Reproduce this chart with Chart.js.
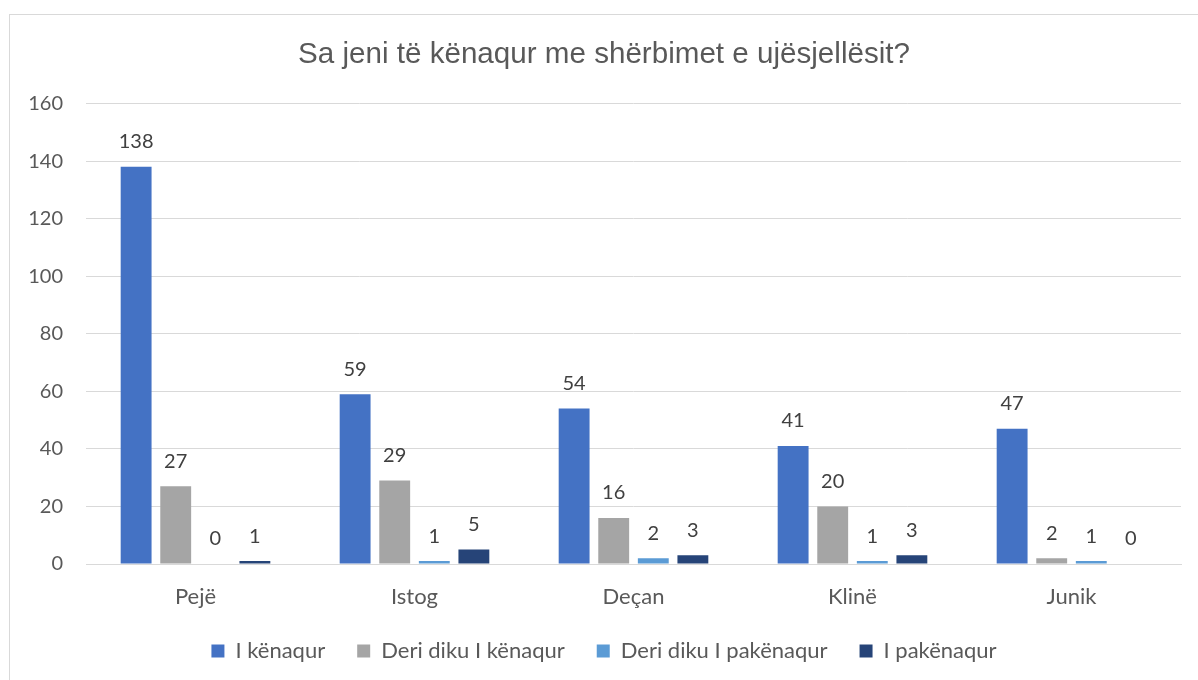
<!DOCTYPE html>
<html>
<head>
<meta charset="utf-8">
<script src="https://cdn.jsdelivr.net/npm/chart.js@4/dist/chart.umd.min.js"></script>
<style>
  html, body { margin: 0; padding: 0; background: #fff; overflow: hidden; }
  #frame {
    position: absolute; left: 9px; top: 14px;
    width: 1189px; height: 666px;
    border-left: 1px solid #d9d9d9; border-top: 1px solid #d9d9d9;
  }
  #wrap { position: absolute; left: 0; top: 0; width: 1188px; height: 665px; }
</style>
</head>
<body>
<div id="frame"><div id="wrap"><canvas id="myChart"></canvas></div></div>
<script>
// categories
const towns = ['Pejë', 'Istog', 'Deçan', 'Klinë', 'Junik']

// series
const satisfied = [138, 59, 54, 41, 47]
const somewhatSatisfied = [27, 29, 16, 20, 2]
const somewhatUnsatisfied = [0, 1, 2, 1, 1]
const unsatisfied = [1, 5, 3, 3, 0]

const seriesNames = ['I kënaqur', 'Deri diku I kënaqur', 'Deri diku I pakënaqur', 'I pakënaqur']
const seriesColors = ['#4472C4', '#A5A5A5', '#5B9BD5', '#264478']

const yTicks = [0, 20, 40, 60, 80, 100, 120, 140, 160]

const labelFont = 'Lato, "Open Sans", sans-serif'

// draws the value above each bar
const barLabels = {
    id: 'barLabels',
    afterDatasetsDraw(chart) {
        const c = chart.ctx
        c.save()
        c.font = '20px ' + labelFont
        c.fillStyle = '#404040'
        c.textAlign = 'center'
        c.textBaseline = 'middle'
        chart.data.datasets.forEach((ds, i) => {
            chart.getDatasetMeta(i).data.forEach((bar, j) => {
                c.fillText(ds.data[j], bar.x, bar.y - 25)
            })
        })
        c.restore()
    }
}

const ctx = document.getElementById('myChart').getContext('2d')

const allSeries = [satisfied, somewhatSatisfied, somewhatUnsatisfied, unsatisfied]

const myChart = new Chart(ctx, {
    type: 'bar',
    data: {
        labels: towns,
        datasets: allSeries.map((values, i) => ({
            label: seriesNames[i],
            data: values,
            backgroundColor: seriesColors[i],
            borderWidth: 0,
            categoryPercentage: 0.723,
            barPercentage: 0.78
        }))
    },
    options: {
        responsive: true,
        maintainAspectRatio: false,
        animation: false,
        layout: { padding: { left: 17, right: 17, top: 0, bottom: 8 } },
        plugins: {
            title: {
                display: true,
                text: 'Sa jeni të kënaqur me shërbimet e ujësjellësit?',
                color: '#595959',
                font: { family: '"Liberation Sans", Arial, sans-serif', size: 29.6, weight: 'normal' },
                padding: { top: 22, bottom: 31 }
            },
            legend: {
                position: 'bottom',
                labels: {
                    boxWidth: 13,
                    boxHeight: 13,
                    color: '#595959',
                    padding: 32,
                    font: { family: labelFont, size: 22 }
                }
            },
            tooltip: { enabled: false }
        },
        scales: {
            x: {
                afterFit(scale) { scale.height = 44 },
                grid: { display: false, drawTicks: false },
                border: { display: true, color: '#d9d9d9', width: 1 },
                ticks: { color: '#595959', padding: 20, font: { family: labelFont, size: 22 } }
            },
            y: {
                min: 0,
                max: 160,
                afterFit(scale) { scale.width = 59 },
                afterBuildTicks(scale) { scale.ticks = yTicks.map(v => ({ value: v })) },
                grid: { color: '#d9d9d9', lineWidth: 1, drawTicks: false },
                border: { display: false },
                ticks: { color: '#595959', padding: 23, font: { family: labelFont, size: 20 } }
            }
        }
    },
    plugins: [barLabels]
})
</script>
</body>
</html>
